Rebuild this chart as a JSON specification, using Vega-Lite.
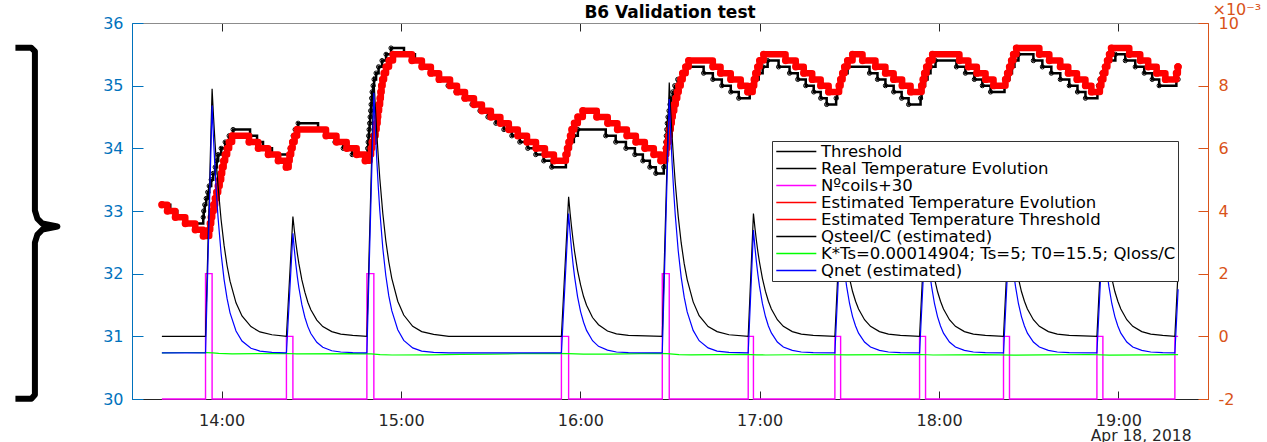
{
  "$schema": "https://vega.github.io/schema/vega-lite/v6.json",
  "width": 1076,
  "height": 376,
  "autosize": {"type": "none"},
  "padding": {"left": 132, "top": 23, "right": 59, "bottom": 43},
  "background": "#ffffff",
  "title": {"text": "B6 Validation test", "font": "DejaVu Sans", "fontSize": 17, "fontWeight": "bold", "color": "#000000", "anchor": "middle", "offset": -13, "baseline": "alphabetic", "dy": 21},
  "config": {
    "view": {"stroke": "#8c8c8c", "strokeWidth": 1},
    "font": "DejaVu Sans",
    "axis": {"grid": false, "labelFont": "DejaVu Sans", "titleFont": "DejaVu Sans", "domainWidth": 1, "tickWidth": 1}
  },
  "datasets": {
    "brace": [
      {"i": 0, "t": "12:51:00", "v": 35.604}, {"i": 1, "t": "12:56:20", "v": 35.604}, {"i": 2, "t": "12:57:31", "v": 35.548},
      {"i": 3, "t": "12:57:31", "v": 33.008}, {"i": 4, "t": "12:58:21", "v": 32.88}, {"i": 5, "t": "13:00:01", "v": 32.8},
      {"i": 6, "t": "13:05:02", "v": 32.752}, {"i": 7, "t": "13:00:01", "v": 32.704}, {"i": 8, "t": "12:58:21", "v": 32.624},
      {"i": 9, "t": "12:57:31", "v": 32.496}, {"i": 10, "t": "12:57:31", "v": 30.069}, {"i": 11, "t": "12:56:20", "v": 30.005},
      {"i": 12, "t": "12:51:00", "v": 30.005}
    ],
    "real": [
      {"t": "13:40:00", "v": 33.1}, {"t": "13:42:48", "v": 33.0}, {"t": "13:45:08", "v": 32.9}, {"t": "13:47:50", "v": 32.8},
      {"t": "13:53:50", "v": 32.9}, {"t": "13:54:00", "v": 33.0}, {"t": "13:54:20", "v": 33.1}, {"t": "13:54:50", "v": 33.2},
      {"t": "13:55:20", "v": 33.3}, {"t": "13:55:50", "v": 33.4}, {"t": "13:56:30", "v": 33.5}, {"t": "13:57:10", "v": 33.6},
      {"t": "13:57:50", "v": 33.7}, {"t": "13:58:20", "v": 33.8}, {"t": "13:58:50", "v": 33.9}, {"t": "13:59:50", "v": 34.0},
      {"t": "14:01:10", "v": 34.1}, {"t": "14:02:30", "v": 34.2}, {"t": "14:03:50", "v": 34.3}, {"t": "14:09:30", "v": 34.2},
      {"t": "14:11:50", "v": 34.1}, {"t": "14:13:50", "v": 34.0}, {"t": "14:16:50", "v": 33.9}, {"t": "14:22:55", "v": 34.0},
      {"t": "14:23:25", "v": 34.1}, {"t": "14:23:55", "v": 34.2}, {"t": "14:24:35", "v": 34.3}, {"t": "14:25:35", "v": 34.4},
      {"t": "14:32:15", "v": 34.3}, {"t": "14:35:15", "v": 34.2}, {"t": "14:37:55", "v": 34.1}, {"t": "14:40:40", "v": 34.0},
      {"t": "14:43:40", "v": 33.9}, {"t": "14:48:50", "v": 34.0}, {"t": "14:49:00", "v": 34.1}, {"t": "14:49:10", "v": 34.2},
      {"t": "14:49:20", "v": 34.3}, {"t": "14:49:30", "v": 34.4}, {"t": "14:49:40", "v": 34.5}, {"t": "14:49:50", "v": 34.6},
      {"t": "14:50:00", "v": 34.7}, {"t": "14:50:10", "v": 34.8}, {"t": "14:50:20", "v": 34.9}, {"t": "14:50:40", "v": 35.0},
      {"t": "14:51:00", "v": 35.1}, {"t": "14:51:40", "v": 35.2}, {"t": "14:52:30", "v": 35.3}, {"t": "14:53:40", "v": 35.4},
      {"t": "14:55:00", "v": 35.5}, {"t": "14:56:40", "v": 35.6}, {"t": "15:01:00", "v": 35.5}, {"t": "15:04:40", "v": 35.4},
      {"t": "15:07:20", "v": 35.3}, {"t": "15:10:20", "v": 35.2}, {"t": "15:13:00", "v": 35.1}, {"t": "15:15:45", "v": 35.0},
      {"t": "15:18:25", "v": 34.9}, {"t": "15:21:05", "v": 34.8}, {"t": "15:23:45", "v": 34.7}, {"t": "15:26:25", "v": 34.6},
      {"t": "15:29:05", "v": 34.5}, {"t": "15:31:45", "v": 34.4}, {"t": "15:34:25", "v": 34.3}, {"t": "15:37:05", "v": 34.2},
      {"t": "15:39:45", "v": 34.1}, {"t": "15:42:25", "v": 34.0}, {"t": "15:45:05", "v": 33.9}, {"t": "15:47:45", "v": 33.8},
      {"t": "15:50:25", "v": 33.7}, {"t": "15:55:10", "v": 33.8}, {"t": "15:55:40", "v": 33.9}, {"t": "15:56:10", "v": 34.0},
      {"t": "15:56:50", "v": 34.1}, {"t": "15:57:50", "v": 34.2}, {"t": "15:59:10", "v": 34.3}, {"t": "16:08:30", "v": 34.2},
      {"t": "16:11:50", "v": 34.1}, {"t": "16:15:15", "v": 34.0}, {"t": "16:18:15", "v": 33.9}, {"t": "16:20:55", "v": 33.8},
      {"t": "16:23:15", "v": 33.7}, {"t": "16:25:15", "v": 33.6}, {"t": "16:27:55", "v": 33.7}, {"t": "16:28:05", "v": 33.8},
      {"t": "16:28:15", "v": 33.9}, {"t": "16:28:25", "v": 34.0}, {"t": "16:28:35", "v": 34.1}, {"t": "16:28:45", "v": 34.2},
      {"t": "16:28:55", "v": 34.3}, {"t": "16:29:05", "v": 34.4}, {"t": "16:29:20", "v": 34.5}, {"t": "16:29:40", "v": 34.6},
      {"t": "16:30:00", "v": 34.7}, {"t": "16:30:25", "v": 34.8}, {"t": "16:30:55", "v": 34.9}, {"t": "16:31:35", "v": 35.0},
      {"t": "16:32:35", "v": 35.1}, {"t": "16:33:55", "v": 35.2}, {"t": "16:35:35", "v": 35.3}, {"t": "16:41:15", "v": 35.2},
      {"t": "16:44:20", "v": 35.1}, {"t": "16:47:20", "v": 35.0}, {"t": "16:50:20", "v": 34.9}, {"t": "16:53:00", "v": 34.8},
      {"t": "16:56:40", "v": 34.9}, {"t": "16:57:30", "v": 35.0}, {"t": "16:58:20", "v": 35.1}, {"t": "16:59:40", "v": 35.2},
      {"t": "17:01:00", "v": 35.3}, {"t": "17:02:40", "v": 35.4}, {"t": "17:06:20", "v": 35.3}, {"t": "17:10:00", "v": 35.2},
      {"t": "17:12:45", "v": 35.1}, {"t": "17:15:25", "v": 35.0}, {"t": "17:18:05", "v": 34.9}, {"t": "17:20:25", "v": 34.8},
      {"t": "17:22:25", "v": 34.7}, {"t": "17:25:35", "v": 34.8}, {"t": "17:25:55", "v": 34.9}, {"t": "17:26:25", "v": 35.0},
      {"t": "17:27:05", "v": 35.1}, {"t": "17:28:05", "v": 35.2}, {"t": "17:29:25", "v": 35.3}, {"t": "17:36:45", "v": 35.2},
      {"t": "17:39:25", "v": 35.1}, {"t": "17:42:05", "v": 35.0}, {"t": "17:44:50", "v": 34.9}, {"t": "17:47:30", "v": 34.8},
      {"t": "17:49:50", "v": 34.7}, {"t": "17:53:50", "v": 34.8}, {"t": "17:54:10", "v": 34.9}, {"t": "17:54:40", "v": 35.0},
      {"t": "17:55:20", "v": 35.1}, {"t": "17:56:10", "v": 35.2}, {"t": "17:57:10", "v": 35.3}, {"t": "17:58:50", "v": 35.4},
      {"t": "18:05:50", "v": 35.3}, {"t": "18:08:50", "v": 35.2}, {"t": "18:11:50", "v": 35.1}, {"t": "18:14:30", "v": 35.0},
      {"t": "18:17:15", "v": 34.9}, {"t": "18:21:55", "v": 35.0}, {"t": "18:22:35", "v": 35.1}, {"t": "18:23:35", "v": 35.2},
      {"t": "18:24:25", "v": 35.3}, {"t": "18:25:15", "v": 35.4}, {"t": "18:26:35", "v": 35.5}, {"t": "18:31:35", "v": 35.4},
      {"t": "18:34:35", "v": 35.3}, {"t": "18:37:35", "v": 35.2}, {"t": "18:40:35", "v": 35.1}, {"t": "18:43:35", "v": 35.0},
      {"t": "18:46:20", "v": 34.9}, {"t": "18:49:00", "v": 34.8}, {"t": "18:53:00", "v": 34.9}, {"t": "18:53:20", "v": 35.0},
      {"t": "18:53:50", "v": 35.1}, {"t": "18:54:30", "v": 35.2}, {"t": "18:55:20", "v": 35.3}, {"t": "18:56:20", "v": 35.4},
      {"t": "18:59:00", "v": 35.5}, {"t": "19:02:20", "v": 35.4}, {"t": "19:05:40", "v": 35.3}, {"t": "19:08:40", "v": 35.2},
      {"t": "19:11:20", "v": 35.1}, {"t": "19:13:40", "v": 35.0}, {"t": "19:19:25", "v": 35.1}, {"t": "19:20:00", "v": 35.1}
    ],
    "est": [
      {"t": "13:40:00", "v": 33.1}, {"t": "13:41:50", "v": 33.0}, {"t": "13:44:30", "v": 32.9}, {"t": "13:47:50", "v": 32.8},
      {"t": "13:51:10", "v": 32.7}, {"t": "13:53:50", "v": 32.6}, {"t": "13:55:50", "v": 32.7}, {"t": "13:56:10", "v": 32.8},
      {"t": "13:56:30", "v": 32.9}, {"t": "13:56:50", "v": 33.0}, {"t": "13:57:20", "v": 33.1}, {"t": "13:57:50", "v": 33.2},
      {"t": "13:58:20", "v": 33.3}, {"t": "13:58:50", "v": 33.4}, {"t": "13:59:20", "v": 33.5}, {"t": "13:59:50", "v": 33.6},
      {"t": "14:00:10", "v": 33.7}, {"t": "14:00:40", "v": 33.8}, {"t": "14:01:10", "v": 33.9}, {"t": "14:01:50", "v": 34.0},
      {"t": "14:02:30", "v": 34.1}, {"t": "14:03:30", "v": 34.2}, {"t": "14:09:10", "v": 34.1}, {"t": "14:12:15", "v": 34.0},
      {"t": "14:15:35", "v": 33.9}, {"t": "14:18:55", "v": 33.8}, {"t": "14:21:35", "v": 33.7}, {"t": "14:22:25", "v": 33.8},
      {"t": "14:22:45", "v": 33.9}, {"t": "14:23:15", "v": 34.0}, {"t": "14:23:45", "v": 34.1}, {"t": "14:24:25", "v": 34.2},
      {"t": "14:25:15", "v": 34.3}, {"t": "14:34:55", "v": 34.2}, {"t": "14:38:25", "v": 34.1}, {"t": "14:41:50", "v": 34.0},
      {"t": "14:45:10", "v": 33.9}, {"t": "14:48:00", "v": 33.8}, {"t": "14:49:30", "v": 33.9}, {"t": "14:50:00", "v": 34.0},
      {"t": "14:50:20", "v": 34.1}, {"t": "14:51:00", "v": 34.2}, {"t": "14:51:30", "v": 34.3}, {"t": "14:51:50", "v": 34.4},
      {"t": "14:52:10", "v": 34.5}, {"t": "14:52:20", "v": 34.6}, {"t": "14:52:40", "v": 34.7}, {"t": "14:53:00", "v": 34.8},
      {"t": "14:53:15", "v": 34.9}, {"t": "14:53:30", "v": 35.0}, {"t": "14:53:50", "v": 35.1}, {"t": "14:54:20", "v": 35.2},
      {"t": "14:55:00", "v": 35.3}, {"t": "14:56:00", "v": 35.4}, {"t": "14:57:20", "v": 35.5}, {"t": "15:03:40", "v": 35.4},
      {"t": "15:07:00", "v": 35.3}, {"t": "15:10:00", "v": 35.2}, {"t": "15:12:45", "v": 35.1}, {"t": "15:16:25", "v": 35.0},
      {"t": "15:18:45", "v": 34.9}, {"t": "15:21:25", "v": 34.8}, {"t": "15:24:25", "v": 34.7}, {"t": "15:27:05", "v": 34.6},
      {"t": "15:30:05", "v": 34.5}, {"t": "15:33:15", "v": 34.4}, {"t": "15:36:05", "v": 34.3}, {"t": "15:39:05", "v": 34.2},
      {"t": "15:42:10", "v": 34.1}, {"t": "15:45:10", "v": 34.0}, {"t": "15:48:10", "v": 33.9}, {"t": "15:51:10", "v": 33.8},
      {"t": "15:55:10", "v": 33.9}, {"t": "15:55:40", "v": 34.0}, {"t": "15:56:10", "v": 34.1}, {"t": "15:56:40", "v": 34.2},
      {"t": "15:57:10", "v": 34.3}, {"t": "15:58:00", "v": 34.4}, {"t": "15:59:10", "v": 34.5}, {"t": "16:00:50", "v": 34.6},
      {"t": "16:05:30", "v": 34.5}, {"t": "16:09:10", "v": 34.4}, {"t": "16:12:25", "v": 34.3}, {"t": "16:15:35", "v": 34.2},
      {"t": "16:18:35", "v": 34.1}, {"t": "16:21:35", "v": 34.0}, {"t": "16:24:35", "v": 33.9}, {"t": "16:26:55", "v": 33.8},
      {"t": "16:28:25", "v": 33.9}, {"t": "16:28:45", "v": 34.0}, {"t": "16:29:05", "v": 34.1}, {"t": "16:29:35", "v": 34.2},
      {"t": "16:29:55", "v": 34.3}, {"t": "16:30:15", "v": 34.4}, {"t": "16:30:35", "v": 34.5}, {"t": "16:30:55", "v": 34.6},
      {"t": "16:31:25", "v": 34.7}, {"t": "16:31:55", "v": 34.8}, {"t": "16:32:25", "v": 34.9}, {"t": "16:32:55", "v": 35.0},
      {"t": "16:33:35", "v": 35.1}, {"t": "16:34:15", "v": 35.2}, {"t": "16:35:15", "v": 35.3}, {"t": "16:36:15", "v": 35.4},
      {"t": "16:44:20", "v": 35.3}, {"t": "16:46:55", "v": 35.2}, {"t": "16:50:20", "v": 35.1}, {"t": "16:53:40", "v": 35.0},
      {"t": "16:56:00", "v": 34.9}, {"t": "16:57:40", "v": 35.0}, {"t": "16:58:10", "v": 35.1}, {"t": "16:58:40", "v": 35.2},
      {"t": "16:59:20", "v": 35.3}, {"t": "17:00:00", "v": 35.4}, {"t": "17:01:20", "v": 35.5}, {"t": "17:08:40", "v": 35.4},
      {"t": "17:12:05", "v": 35.3}, {"t": "17:14:45", "v": 35.2}, {"t": "17:17:35", "v": 35.1}, {"t": "17:20:25", "v": 35.0},
      {"t": "17:23:05", "v": 34.9}, {"t": "17:26:35", "v": 35.0}, {"t": "17:27:05", "v": 35.1}, {"t": "17:27:45", "v": 35.2},
      {"t": "17:28:25", "v": 35.3}, {"t": "17:29:25", "v": 35.4}, {"t": "17:31:05", "v": 35.5}, {"t": "17:34:25", "v": 35.4},
      {"t": "17:38:45", "v": 35.3}, {"t": "17:42:05", "v": 35.2}, {"t": "17:44:50", "v": 35.1}, {"t": "17:47:40", "v": 35.0},
      {"t": "17:50:30", "v": 34.9}, {"t": "17:54:10", "v": 35.0}, {"t": "17:54:40", "v": 35.1}, {"t": "17:55:10", "v": 35.2},
      {"t": "17:55:50", "v": 35.3}, {"t": "17:56:40", "v": 35.4}, {"t": "17:57:50", "v": 35.5}, {"t": "18:06:50", "v": 35.4},
      {"t": "18:09:50", "v": 35.3}, {"t": "18:12:40", "v": 35.2}, {"t": "18:15:35", "v": 35.1}, {"t": "18:18:15", "v": 35.0},
      {"t": "18:22:15", "v": 35.1}, {"t": "18:22:55", "v": 35.2}, {"t": "18:23:35", "v": 35.3}, {"t": "18:24:15", "v": 35.4},
      {"t": "18:24:55", "v": 35.5}, {"t": "18:25:55", "v": 35.6}, {"t": "18:33:35", "v": 35.5}, {"t": "18:36:55", "v": 35.4},
      {"t": "18:40:35", "v": 35.3}, {"t": "18:43:15", "v": 35.2}, {"t": "18:46:10", "v": 35.1}, {"t": "18:49:00", "v": 35.0},
      {"t": "18:51:00", "v": 34.9}, {"t": "18:53:50", "v": 35.0}, {"t": "18:54:20", "v": 35.1}, {"t": "18:55:00", "v": 35.2},
      {"t": "18:55:40", "v": 35.3}, {"t": "18:56:20", "v": 35.4}, {"t": "18:57:00", "v": 35.5}, {"t": "18:57:40", "v": 35.6},
      {"t": "19:03:40", "v": 35.5}, {"t": "19:07:20", "v": 35.4}, {"t": "19:10:00", "v": 35.3}, {"t": "19:12:50", "v": 35.2},
      {"t": "19:15:45", "v": 35.1}, {"t": "19:19:25", "v": 35.2}, {"t": "19:19:55", "v": 35.3}, {"t": "19:20:00", "v": 35.3}
    ],
    "coils": [
      {"t": "13:40:00", "v": 30}, {"t": "13:54:36", "v": 32}, {"t": "13:56:48", "v": 30}, {"t": "14:21:40", "v": 31},
      {"t": "14:23:50", "v": 30}, {"t": "14:48:35", "v": 32}, {"t": "14:50:55", "v": 30}, {"t": "15:53:40", "v": 31},
      {"t": "15:56:05", "v": 30}, {"t": "16:27:25", "v": 32}, {"t": "16:29:45", "v": 30}, {"t": "16:56:10", "v": 31},
      {"t": "16:57:55", "v": 30}, {"t": "17:25:10", "v": 31}, {"t": "17:27:05", "v": 30}, {"t": "17:53:30", "v": 31},
      {"t": "17:55:30", "v": 30}, {"t": "18:21:35", "v": 31}, {"t": "18:23:35", "v": 30}, {"t": "18:52:50", "v": 31},
      {"t": "18:54:50", "v": 30}, {"t": "19:18:55", "v": 31}, {"t": "19:20:00", "v": 31}
    ],
    "qsteel": [
      {"t": "13:40:00", "v": 0},
      {"t": "13:54:36", "v": 0}, {"t": "13:56:48", "v": 7.9}, {"t": "13:57:18", "v": 6.97}, {"t": "13:57:48", "v": 6.15}, {"t": "13:58:18", "v": 5.43}, {"t": "13:58:48", "v": 4.79}, {"t": "13:59:48", "v": 3.73}, {"t": "14:00:48", "v": 2.91}, {"t": "14:01:48", "v": 2.26}, {"t": "14:02:48", "v": 1.76}, {"t": "14:04:48", "v": 1.07}, {"t": "14:06:48", "v": 0.65}, {"t": "14:09:48", "v": 0.31}, {"t": "14:12:48", "v": 0.14}, {"t": "14:16:48", "v": 0.05},
      {"t": "14:21:40", "v": 0}, {"t": "14:23:50", "v": 3.82}, {"t": "14:24:20", "v": 3.37}, {"t": "14:24:50", "v": 2.98}, {"t": "14:25:20", "v": 2.63}, {"t": "14:25:50", "v": 2.32}, {"t": "14:26:50", "v": 1.8}, {"t": "14:27:50", "v": 1.41}, {"t": "14:28:50", "v": 1.09}, {"t": "14:29:50", "v": 0.85}, {"t": "14:31:50", "v": 0.52}, {"t": "14:33:50", "v": 0.31}, {"t": "14:36:50", "v": 0.15}, {"t": "14:39:50", "v": 0.07}, {"t": "14:43:50", "v": 0.03},
      {"t": "14:48:35", "v": 0}, {"t": "14:50:55", "v": 8.3}, {"t": "14:51:25", "v": 7.32}, {"t": "14:51:55", "v": 6.46}, {"t": "14:52:25", "v": 5.7}, {"t": "14:52:55", "v": 5.03}, {"t": "14:53:55", "v": 3.92}, {"t": "14:54:55", "v": 3.05}, {"t": "14:55:55", "v": 2.38}, {"t": "14:56:55", "v": 1.85}, {"t": "14:58:55", "v": 1.12}, {"t": "15:00:55", "v": 0.68}, {"t": "15:03:55", "v": 0.32}, {"t": "15:06:55", "v": 0.15}, {"t": "15:10:55", "v": 0.06}, {"t": "15:16:00", "v": 0},
      {"t": "15:53:40", "v": 0}, {"t": "15:56:05", "v": 4.45}, {"t": "15:56:35", "v": 3.93}, {"t": "15:57:05", "v": 3.47}, {"t": "15:57:35", "v": 3.06}, {"t": "15:58:05", "v": 2.7}, {"t": "15:59:05", "v": 2.1}, {"t": "16:00:05", "v": 1.64}, {"t": "16:01:05", "v": 1.27}, {"t": "16:02:05", "v": 0.99}, {"t": "16:04:05", "v": 0.6}, {"t": "16:06:05", "v": 0.37}, {"t": "16:09:05", "v": 0.17}, {"t": "16:12:05", "v": 0.08}, {"t": "16:16:05", "v": 0.03},
      {"t": "16:27:25", "v": 0}, {"t": "16:29:45", "v": 8.1}, {"t": "16:30:15", "v": 7.15}, {"t": "16:30:45", "v": 6.31}, {"t": "16:31:15", "v": 5.57}, {"t": "16:31:45", "v": 4.91}, {"t": "16:32:45", "v": 3.83}, {"t": "16:33:45", "v": 2.98}, {"t": "16:34:45", "v": 2.32}, {"t": "16:35:45", "v": 1.81}, {"t": "16:37:45", "v": 1.1}, {"t": "16:39:45", "v": 0.66}, {"t": "16:42:45", "v": 0.31}, {"t": "16:45:45", "v": 0.15}, {"t": "16:49:45", "v": 0.05},
      {"t": "16:56:10", "v": 0}, {"t": "16:57:55", "v": 3.92}, {"t": "16:58:25", "v": 3.46}, {"t": "16:58:55", "v": 3.05}, {"t": "16:59:25", "v": 2.69}, {"t": "16:59:55", "v": 2.38}, {"t": "17:00:55", "v": 1.85}, {"t": "17:01:55", "v": 1.44}, {"t": "17:02:55", "v": 1.12}, {"t": "17:03:55", "v": 0.87}, {"t": "17:05:55", "v": 0.53}, {"t": "17:07:55", "v": 0.32}, {"t": "17:10:55", "v": 0.15}, {"t": "17:13:55", "v": 0.07}, {"t": "17:17:55", "v": 0.03},
      {"t": "17:25:10", "v": 0}, {"t": "17:27:05", "v": 3.9}, {"t": "17:27:35", "v": 3.44}, {"t": "17:28:05", "v": 3.04}, {"t": "17:28:35", "v": 2.68}, {"t": "17:29:05", "v": 2.37}, {"t": "17:30:05", "v": 1.84}, {"t": "17:31:05", "v": 1.43}, {"t": "17:32:05", "v": 1.12}, {"t": "17:33:05", "v": 0.87}, {"t": "17:35:05", "v": 0.53}, {"t": "17:37:05", "v": 0.32}, {"t": "17:40:05", "v": 0.15}, {"t": "17:43:05", "v": 0.07}, {"t": "17:47:05", "v": 0.03},
      {"t": "17:53:30", "v": 0}, {"t": "17:55:30", "v": 3.9}, {"t": "17:56:00", "v": 3.44}, {"t": "17:56:30", "v": 3.04}, {"t": "17:57:00", "v": 2.68}, {"t": "17:57:30", "v": 2.37}, {"t": "17:58:30", "v": 1.84}, {"t": "17:59:30", "v": 1.43}, {"t": "18:00:30", "v": 1.12}, {"t": "18:01:30", "v": 0.87}, {"t": "18:03:30", "v": 0.53}, {"t": "18:05:30", "v": 0.32}, {"t": "18:08:30", "v": 0.15}, {"t": "18:11:30", "v": 0.07}, {"t": "18:15:30", "v": 0.03},
      {"t": "18:21:35", "v": 0}, {"t": "18:23:35", "v": 3.9}, {"t": "18:24:05", "v": 3.44}, {"t": "18:24:35", "v": 3.04}, {"t": "18:25:05", "v": 2.68}, {"t": "18:25:35", "v": 2.37}, {"t": "18:26:35", "v": 1.84}, {"t": "18:27:35", "v": 1.43}, {"t": "18:28:35", "v": 1.12}, {"t": "18:29:35", "v": 0.87}, {"t": "18:31:35", "v": 0.53}, {"t": "18:33:35", "v": 0.32}, {"t": "18:36:35", "v": 0.15}, {"t": "18:39:35", "v": 0.07}, {"t": "18:43:35", "v": 0.03},
      {"t": "18:52:50", "v": 0}, {"t": "18:54:50", "v": 3.9}, {"t": "18:55:20", "v": 3.44}, {"t": "18:55:50", "v": 3.04}, {"t": "18:56:20", "v": 2.68}, {"t": "18:56:50", "v": 2.37}, {"t": "18:57:50", "v": 1.84}, {"t": "18:58:50", "v": 1.43}, {"t": "18:59:50", "v": 1.12}, {"t": "19:00:50", "v": 0.87}, {"t": "19:02:50", "v": 0.53}, {"t": "19:04:50", "v": 0.32}, {"t": "19:07:50", "v": 0.15}, {"t": "19:10:50", "v": 0.07}, {"t": "19:14:50", "v": 0.03},
      {"t": "19:18:55", "v": 0}, {"t": "19:20:00", "v": 2.1}
    ],
    "qnet": [
      {"t": "13:40:00", "v": -0.525},
      {"t": "13:54:36", "v": -0.53}, {"t": "13:56:48", "v": 7.37}, {"t": "13:57:18", "v": 6.26}, {"t": "13:57:48", "v": 5.3}, {"t": "13:58:18", "v": 4.48}, {"t": "13:58:48", "v": 3.78}, {"t": "13:59:48", "v": 2.65}, {"t": "14:00:48", "v": 1.82}, {"t": "14:01:48", "v": 1.21}, {"t": "14:02:48", "v": 0.75}, {"t": "14:04:48", "v": 0.17}, {"t": "14:06:48", "v": -0.15}, {"t": "14:09:48", "v": -0.38}, {"t": "14:12:48", "v": -0.47}, {"t": "14:16:48", "v": -0.51},
      {"t": "14:21:40", "v": -0.53}, {"t": "14:23:50", "v": 3.29}, {"t": "14:24:20", "v": 2.75}, {"t": "14:24:50", "v": 2.29}, {"t": "14:25:20", "v": 1.89}, {"t": "14:25:50", "v": 1.55}, {"t": "14:26:50", "v": 1.01}, {"t": "14:27:50", "v": 0.61}, {"t": "14:28:50", "v": 0.31}, {"t": "14:29:50", "v": 0.09}, {"t": "14:31:50", "v": -0.19}, {"t": "14:33:50", "v": -0.35}, {"t": "14:36:50", "v": -0.46}, {"t": "14:39:50", "v": -0.5}, {"t": "14:43:50", "v": -0.52},
      {"t": "14:48:35", "v": -0.53}, {"t": "14:50:55", "v": 7.77}, {"t": "14:51:25", "v": 6.6}, {"t": "14:51:55", "v": 5.6}, {"t": "14:52:25", "v": 4.74}, {"t": "14:52:55", "v": 4.0}, {"t": "14:53:55", "v": 2.81}, {"t": "14:54:55", "v": 1.94}, {"t": "14:55:55", "v": 1.29}, {"t": "14:56:55", "v": 0.82}, {"t": "14:58:55", "v": 0.21}, {"t": "15:00:55", "v": -0.13}, {"t": "15:03:55", "v": -0.37}, {"t": "15:06:55", "v": -0.47}, {"t": "15:10:55", "v": -0.51}, {"t": "15:16:00", "v": -0.53},
      {"t": "15:53:40", "v": -0.53}, {"t": "15:56:05", "v": 3.92}, {"t": "15:56:35", "v": 3.29}, {"t": "15:57:05", "v": 2.76}, {"t": "15:57:35", "v": 2.29}, {"t": "15:58:05", "v": 1.9}, {"t": "15:59:05", "v": 1.26}, {"t": "16:00:05", "v": 0.79}, {"t": "16:01:05", "v": 0.45}, {"t": "16:02:05", "v": 0.19}, {"t": "16:04:05", "v": -0.14}, {"t": "16:06:05", "v": -0.32}, {"t": "16:09:05", "v": -0.44}, {"t": "16:12:05", "v": -0.5}, {"t": "16:16:05", "v": -0.52},
      {"t": "16:27:25", "v": -0.53}, {"t": "16:29:45", "v": 7.57}, {"t": "16:30:15", "v": 6.43}, {"t": "16:30:45", "v": 5.45}, {"t": "16:31:15", "v": 4.61}, {"t": "16:31:45", "v": 3.89}, {"t": "16:32:45", "v": 2.73}, {"t": "16:33:45", "v": 1.88}, {"t": "16:34:45", "v": 1.25}, {"t": "16:35:45", "v": 0.78}, {"t": "16:37:45", "v": 0.19}, {"t": "16:39:45", "v": -0.14}, {"t": "16:42:45", "v": -0.37}, {"t": "16:45:45", "v": -0.47}, {"t": "16:49:45", "v": -0.51},
      {"t": "16:56:10", "v": -0.53}, {"t": "16:57:55", "v": 3.39}, {"t": "16:58:25", "v": 2.84}, {"t": "16:58:55", "v": 2.37}, {"t": "16:59:25", "v": 1.96}, {"t": "16:59:55", "v": 1.61}, {"t": "17:00:55", "v": 1.05}, {"t": "17:01:55", "v": 0.64}, {"t": "17:02:55", "v": 0.33}, {"t": "17:03:55", "v": 0.11}, {"t": "17:05:55", "v": -0.18}, {"t": "17:07:55", "v": -0.34}, {"t": "17:10:55", "v": -0.45}, {"t": "17:13:55", "v": -0.5}, {"t": "17:17:55", "v": -0.52},
      {"t": "17:25:10", "v": -0.53}, {"t": "17:27:05", "v": 3.37}, {"t": "17:27:35", "v": 2.82}, {"t": "17:28:05", "v": 2.35}, {"t": "17:28:35", "v": 1.95}, {"t": "17:29:05", "v": 1.6}, {"t": "17:30:05", "v": 1.04}, {"t": "17:31:05", "v": 0.63}, {"t": "17:32:05", "v": 0.33}, {"t": "17:33:05", "v": 0.1}, {"t": "17:35:05", "v": -0.18}, {"t": "17:37:05", "v": -0.34}, {"t": "17:40:05", "v": -0.45}, {"t": "17:43:05", "v": -0.5}, {"t": "17:47:05", "v": -0.52},
      {"t": "17:53:30", "v": -0.53}, {"t": "17:55:30", "v": 3.37}, {"t": "17:56:00", "v": 2.82}, {"t": "17:56:30", "v": 2.35}, {"t": "17:57:00", "v": 1.95}, {"t": "17:57:30", "v": 1.6}, {"t": "17:58:30", "v": 1.04}, {"t": "17:59:30", "v": 0.63}, {"t": "18:00:30", "v": 0.33}, {"t": "18:01:30", "v": 0.1}, {"t": "18:03:30", "v": -0.18}, {"t": "18:05:30", "v": -0.34}, {"t": "18:08:30", "v": -0.45}, {"t": "18:11:30", "v": -0.5}, {"t": "18:15:30", "v": -0.52},
      {"t": "18:21:35", "v": -0.53}, {"t": "18:23:35", "v": 3.37}, {"t": "18:24:05", "v": 2.82}, {"t": "18:24:35", "v": 2.35}, {"t": "18:25:05", "v": 1.95}, {"t": "18:25:35", "v": 1.6}, {"t": "18:26:35", "v": 1.04}, {"t": "18:27:35", "v": 0.63}, {"t": "18:28:35", "v": 0.33}, {"t": "18:29:35", "v": 0.1}, {"t": "18:31:35", "v": -0.18}, {"t": "18:33:35", "v": -0.34}, {"t": "18:36:35", "v": -0.45}, {"t": "18:39:35", "v": -0.5}, {"t": "18:43:35", "v": -0.52},
      {"t": "18:52:50", "v": -0.53}, {"t": "18:54:50", "v": 3.37}, {"t": "18:55:20", "v": 2.82}, {"t": "18:55:50", "v": 2.35}, {"t": "18:56:20", "v": 1.95}, {"t": "18:56:50", "v": 1.6}, {"t": "18:57:50", "v": 1.04}, {"t": "18:58:50", "v": 0.63}, {"t": "18:59:50", "v": 0.33}, {"t": "19:00:50", "v": 0.1}, {"t": "19:02:50", "v": -0.18}, {"t": "19:04:50", "v": -0.34}, {"t": "19:07:50", "v": -0.45}, {"t": "19:10:50", "v": -0.5}, {"t": "19:14:50", "v": -0.52},
      {"t": "19:18:55", "v": -0.53}, {"t": "19:20:00", "v": 1.5}
    ],
    "loss": [
      {"t": "13:40:00", "v": -0.525}, {"t": "13:47:50", "v": -0.516}, {"t": "13:55:00", "v": -0.52}, {"t": "13:57:00", "v": -0.53},
      {"t": "13:59:00", "v": -0.545}, {"t": "14:03:30", "v": -0.557}, {"t": "14:15:00", "v": -0.55}, {"t": "14:22:00", "v": -0.548},
      {"t": "14:25:00", "v": -0.56}, {"t": "14:45:00", "v": -0.55}, {"t": "14:50:00", "v": -0.56}, {"t": "14:53:00", "v": -0.585},
      {"t": "14:57:00", "v": -0.596}, {"t": "15:10:00", "v": -0.59}, {"t": "15:20:00", "v": -0.575}, {"t": "15:30:00", "v": -0.565},
      {"t": "15:40:00", "v": -0.555}, {"t": "15:51:00", "v": -0.545}, {"t": "15:56:00", "v": -0.552}, {"t": "16:01:00", "v": -0.568},
      {"t": "16:10:00", "v": -0.565}, {"t": "16:25:00", "v": -0.547}, {"t": "16:29:00", "v": -0.555}, {"t": "16:33:00", "v": -0.585},
      {"t": "16:37:00", "v": -0.593}, {"t": "16:55:00", "v": -0.578}, {"t": "16:59:00", "v": -0.59}, {"t": "17:02:00", "v": -0.596},
      {"t": "17:20:00", "v": -0.58}, {"t": "17:29:00", "v": -0.593}, {"t": "17:45:00", "v": -0.585}, {"t": "17:54:00", "v": -0.58},
      {"t": "17:58:00", "v": -0.596}, {"t": "18:15:00", "v": -0.583}, {"t": "18:25:00", "v": -0.6}, {"t": "18:35:00", "v": -0.593},
      {"t": "18:50:00", "v": -0.58}, {"t": "18:57:00", "v": -0.6}, {"t": "19:10:00", "v": -0.59}, {"t": "19:20:00", "v": -0.585}
    ]
  },
  "layer": [
    {
      "encoding": {
        "x": {
          "field": "t", "type": "temporal",
          "scale": {"domain": [{"year": 1900, "month": 1, "date": 1, "hours": 13, "minutes": 30}, {"year": 1900, "month": 1, "date": 1, "hours": 19, "minutes": 30}], "nice": false},
          "axis": {
            "orient": "bottom", "format": "%H:%M",
            "values": [{"year": 1900, "month": 1, "date": 1, "hours": 14}, {"year": 1900, "month": 1, "date": 1, "hours": 15}, {"year": 1900, "month": 1, "date": 1, "hours": 16}, {"year": 1900, "month": 1, "date": 1, "hours": 17}, {"year": 1900, "month": 1, "date": 1, "hours": 18}, {"year": 1900, "month": 1, "date": 1, "hours": 19}],
            "tickSize": -8, "tickColor": "#262626", "domainColor": "#262626",
            "labelFontSize": 16, "labelColor": "#262626", "labelPadding": 21, "labelFlush": false,
            "title": "Apr 18, 2018", "titleFontSize": 15.5, "titleFontWeight": "normal", "titleColor": "#262626",
            "titleX": 1059, "titleY": 41, "titleAlign": "right", "titleBaseline": "alphabetic"
          }
        },
        "y": {
          "field": "v", "type": "quantitative",
          "scale": {"domain": [30, 36], "nice": false, "zero": false},
          "axis": {
            "orient": "left", "values": [30, 31, 32, 33, 34, 35, 36], "tickSize": -11,
            "tickColor": "#0072BD", "domainColor": "#0072BD", "labelColor": "#0072BD",
            "labelFontSize": 16, "labelPadding": 20, "title": null
          }
        }
      },
      "layer": [
        {
          "data": {"name": "brace", "format": {"parse": {"t": "date:'%H:%M:%S'"}}},
          "mark": {"type": "line", "color": "#000000", "strokeWidth": 6, "strokeJoin": "round", "clip": false},
          "encoding": {"order": {"field": "i", "type": "quantitative"}}
        },
        {
          "data": {"name": "real", "format": {"parse": {"t": "date:'%H:%M:%S'"}}},
          "mark": {"type": "line", "interpolate": "step-after", "strokeWidth": 2.5, "point": {"filled": false, "shape": "circle", "size": 18, "strokeWidth": 1, "opacity": 1}},
          "encoding": {
            "color": {
              "datum": "Real Temperature Evolution", "type": "nominal",
              "scale": {
                "domain": ["Threshold", "Real Temperature Evolution", "Nºcoils+30", "Estimated Temperature Evolution", "Estimated Temperature Threshold", "Qsteel/C (estimated)", "K*Ts=0.00014904; Ts=5; T0=15.5; Qloss/C", "Qnet (estimated)"],
                "range": ["#000000", "#000000", "#ff00ff", "#ff0000", "#ff0000", "#000000", "#00ff00", "#0000ff"]
              },
              "legend": {
                "orient": "none", "legendX": 640, "legendY": 118, "direction": "vertical", "title": null,
                "padding": 2, "rowPadding": 0, "strokeColor": "#333333", "fillColor": "#ffffff",
                "symbolType": "M-0.83,0H4.51", "symbolSize": 225, "symbolStrokeWidth": 1.3,
                "labelFont": "DejaVu Sans", "labelFontSize": 16.5, "labelColor": "#000000", "labelOffset": 30, "labelLimit": 600
              }
            }
          }
        },
        {
          "data": {"name": "coils", "format": {"parse": {"t": "date:'%H:%M:%S'"}}},
          "mark": {"type": "line", "interpolate": "step-after", "strokeWidth": 1.4},
          "encoding": {"color": {"datum": "Nºcoils+30", "type": "nominal"}}
        },
        {
          "data": {"name": "est", "format": {"parse": {"t": "date:'%H:%M:%S'"}}},
          "mark": {"type": "line", "interpolate": "step-after", "strokeWidth": 6.5, "strokeCap": "round", "strokeJoin": "round", "point": {"filled": false, "shape": "circle", "size": 34, "strokeWidth": 1.5, "opacity": 1}},
          "encoding": {"color": {"datum": "Estimated Temperature Threshold", "type": "nominal"}}
        }
      ]
    },
    {
      "encoding": {
        "x": {
          "field": "t", "type": "temporal",
          "axis": {
            "orient": "top", "labels": false, "title": null,
            "values": [{"year": 1900, "month": 1, "date": 1, "hours": 14}, {"year": 1900, "month": 1, "date": 1, "hours": 15}, {"year": 1900, "month": 1, "date": 1, "hours": 16}, {"year": 1900, "month": 1, "date": 1, "hours": 17}, {"year": 1900, "month": 1, "date": 1, "hours": 18}, {"year": 1900, "month": 1, "date": 1, "hours": 19}],
            "tickSize": -8, "tickColor": "#262626", "domainColor": "#8c8c8c"
          }
        },
        "y": {
          "field": "v", "type": "quantitative",
          "scale": {"domain": [-2, 10], "nice": false, "zero": false},
          "axis": {
            "orient": "right", "values": [-2, 0, 2, 4, 6, 8, 10], "tickSize": -10,
            "tickColor": "#D95319", "domainColor": "#D95319", "labelColor": "#D95319",
            "labelFontSize": 16, "labelPadding": 20, "labelExpr": "replace(datum.label, '−', '-')",
            "title": "×10⁻³", "titleAngle": 0, "titleX": 4, "titleY": -9, "titleAlign": "left", "titleBaseline": "alphabetic",
            "titleFontSize": 16, "titleFontWeight": "normal", "titleColor": "#D95319"
          }
        }
      },
      "layer": [
        {
          "data": {"name": "qsteel", "format": {"parse": {"t": "date:'%H:%M:%S'"}}},
          "mark": {"type": "line", "strokeWidth": 1.2},
          "encoding": {"color": {"datum": "Qsteel/C (estimated)", "type": "nominal"}}
        },
        {
          "data": {"name": "loss", "format": {"parse": {"t": "date:'%H:%M:%S'"}}},
          "mark": {"type": "line", "strokeWidth": 1.2},
          "encoding": {"color": {"datum": "K*Ts=0.00014904; Ts=5; T0=15.5; Qloss/C", "type": "nominal"}}
        },
        {
          "data": {"name": "qnet", "format": {"parse": {"t": "date:'%H:%M:%S'"}}},
          "mark": {"type": "line", "strokeWidth": 1.2},
          "encoding": {"color": {"datum": "Qnet (estimated)", "type": "nominal"}}
        }
      ]
    }
  ],
  "resolve": {"scale": {"y": "independent"}, "axis": {"x": "independent"}}
}
